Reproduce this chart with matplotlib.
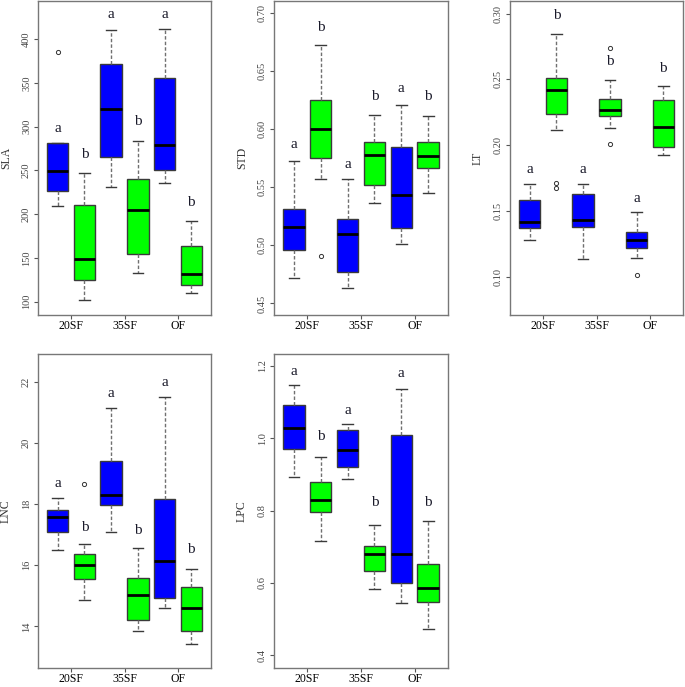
import numpy as np
import matplotlib.pyplot as plt

plt.rcParams['font.family'] = ['Liberation Serif', 'DejaVu Serif']

groups = ['20SF', '35SF', 'OF']
box_colors = ['#0000ff', '#00ff00'] * 3

# each box: [whisker low, Q1, median, Q3, whisker high]
sla_stats = [[209.7, 226.4, 249.2, 281.1, 281.1],
             [101.5, 125.4, 149.0, 210.1, 246.6],
             [230.6, 265.2, 320.6, 371.1, 411.0],
             [133.0, 154.3, 204.4, 239.7, 283.4],
             [235.2, 250.4, 278.8, 355.9, 411.8],
             [109.5, 118.9, 131.9, 163.4, 192.6]]
sla_fliers = [[384.8], [], [], [], [], []]
sla_letters = ['a', 'b', 'a', 'b', 'a', 'b']
sla_letter_y = [297.5, 267.8, 428.5, 306.2, 428.5, 213.9]

std_stats = [[0.4715, 0.4958, 0.5156, 0.5313, 0.5723],
             [0.5571, 0.5749, 0.6003, 0.6255, 0.6725],
             [0.4632, 0.4769, 0.5101, 0.5224, 0.5571],
             [0.5362, 0.5520, 0.5780, 0.5895, 0.6124],
             [0.5013, 0.5150, 0.5436, 0.5846, 0.6212],
             [0.5451, 0.5663, 0.5766, 0.5889, 0.6118]]
std_fliers = [[], [0.4907], [], [], [], []]
std_letters = ['a', 'b', 'a', 'b', 'a', 'b']
std_letter_y = [0.587, 0.688, 0.5697, 0.628, 0.6353, 0.628]

lt_stats = [[0.1283, 0.1369, 0.1414, 0.1581, 0.1705],
            [0.2119, 0.2240, 0.2419, 0.2510, 0.2846],
            [0.1136, 0.1381, 0.1429, 0.1631, 0.1705],
            [0.2134, 0.2220, 0.2265, 0.2354, 0.2497],
            [0.1141, 0.1222, 0.1283, 0.1343, 0.1490],
            [0.1924, 0.1990, 0.2141, 0.2343, 0.2449]]
lt_fliers = [[], [0.1677, 0.1712], [], [0.2740, 0.2010], [0.1013], []]
lt_letters = ['a', 'b', 'a', 'b', 'a', 'b']
lt_letter_y = [0.1816, 0.2985, 0.1816, 0.2634, 0.1598, 0.2583]

lnc_stats = [[16.48, 17.08, 17.59, 17.81, 18.20],
             [14.87, 15.56, 15.99, 16.37, 16.68],
             [17.07, 17.96, 18.29, 19.40, 21.14],
             [13.85, 14.20, 15.02, 15.59, 16.56],
             [14.59, 14.94, 16.14, 18.17, 21.49],
             [13.43, 13.86, 14.59, 15.28, 15.89]]
lnc_fliers = [[], [18.66], [], [], [], []]
lnc_letters = ['a', 'b', 'a', 'b', 'a', 'b']
lnc_letter_y = [18.66, 17.24, 21.6, 17.13, 21.98, 16.52]

lpc_stats = [[0.8917, 0.9706, 1.0275, 1.0917, 1.1477],
             [0.7156, 0.7963, 0.8284, 0.8789, 0.9495],
             [0.8872, 0.9220, 0.9670, 1.0239, 1.0385],
             [0.5835, 0.6340, 0.6789, 0.7028, 0.7615],
             [0.5440, 0.6000, 0.6807, 1.0092, 1.1358],
             [0.4725, 0.5477, 0.5853, 0.6523, 0.7716]]
lpc_fliers = [[], [], [], [], [], []]
lpc_letters = ['a', 'b', 'a', 'b', 'a', 'b']
lpc_letter_y = [1.184, 1.0037, 1.077, 0.822, 1.18, 0.822]

W, H = 685, 687
fig = plt.figure(figsize=(W / 100, H / 100), dpi=100)


def add_panel(px, name, stats, fliers, letters, letter_y, ylim, yticks, fmt):
    left, top, right, bottom = px
    ax = fig.add_axes([left / W, 1 - bottom / H, (right - left) / W, (bottom - top) / H])
    bstats = []
    for s, fl in zip(stats, fliers):
        bstats.append(dict(whislo=s[0], q1=s[1], med=s[2], q3=s[3], whishi=s[4], fliers=fl))
    pos = np.arange(1, 7)
    parts = ax.bxp(bstats, positions=pos, widths=0.8, capwidths=0.4, patch_artist=True,
                   boxprops=dict(edgecolor='#3a3a3a', linewidth=1.0),
                   medianprops=dict(color='black', linewidth=2.0),
                   whiskerprops=dict(color='#707070', linewidth=1.0, linestyle=(0, (2.5, 1.5))),
                   capprops=dict(color='#3a3a3a', linewidth=1.0),
                   flierprops=dict(marker='o', markersize=3, markerfacecolor='none',
                                   markeredgecolor='#333333', markeredgewidth=0.7))
    for patch, c in zip(parts['boxes'], box_colors):
        patch.set_facecolor(c)
    for x, lab, y in zip(pos, letters, letter_y):
        ax.text(x, y, lab, ha='center', va='center', fontsize=11, color='#1a1a2a')
    ax.set_xlim(0.26, 6.74)
    ax.set_ylim(*ylim)
    ax.set_xticks([1.5, 3.5, 5.5])
    ax.set_xticklabels(groups, fontsize=8.5)
    ax.set_yticks(yticks)
    ax.set_yticklabels([fmt.format(v) for v in yticks], fontsize=7.5, color='#444444',
                       rotation=90, va='center')
    ax.tick_params(axis='both', length=3, width=0.8, color='#555555', pad=2)
    ax.tick_params(axis='x', pad=0.8)
    for sp in ax.spines.values():
        sp.set_color('#777777')
        sp.set_linewidth(1.0)
    ax.set_ylabel(name, fontsize=8.5, color='#333333')
    ax.yaxis.set_label_coords(-0.15, 0.5)
    return ax


add_panel((38, 1, 211, 315), 'SLA', sla_stats, sla_fliers, sla_letters, sla_letter_y,
          (84.9, 443.6), np.arange(100, 401, 50), '{:.0f}')
add_panel((274, 1, 448, 315), 'STD', std_stats, std_fliers, std_letters, std_letter_y,
          (0.44, 0.7106), np.arange(0.45, 0.701, 0.05), '{:.2f}')
add_panel((510, 1, 683, 315), 'LT', lt_stats, lt_fliers, lt_letters, lt_letter_y,
          (0.071, 0.3096), np.arange(0.10, 0.301, 0.05), '{:.2f}')
add_panel((38, 354, 211, 668), 'LNC', lnc_stats, lnc_fliers, lnc_letters, lnc_letter_y,
          (12.64, 22.9), np.arange(14, 23, 2), '{:.0f}')
add_panel((274, 354, 448, 668), 'LPC', lpc_stats, lpc_fliers, lpc_letters, lpc_letter_y,
          (0.365, 1.233), np.arange(0.4, 1.21, 0.2), '{:.1f}')

fig.savefig('out.png', dpi=100)
